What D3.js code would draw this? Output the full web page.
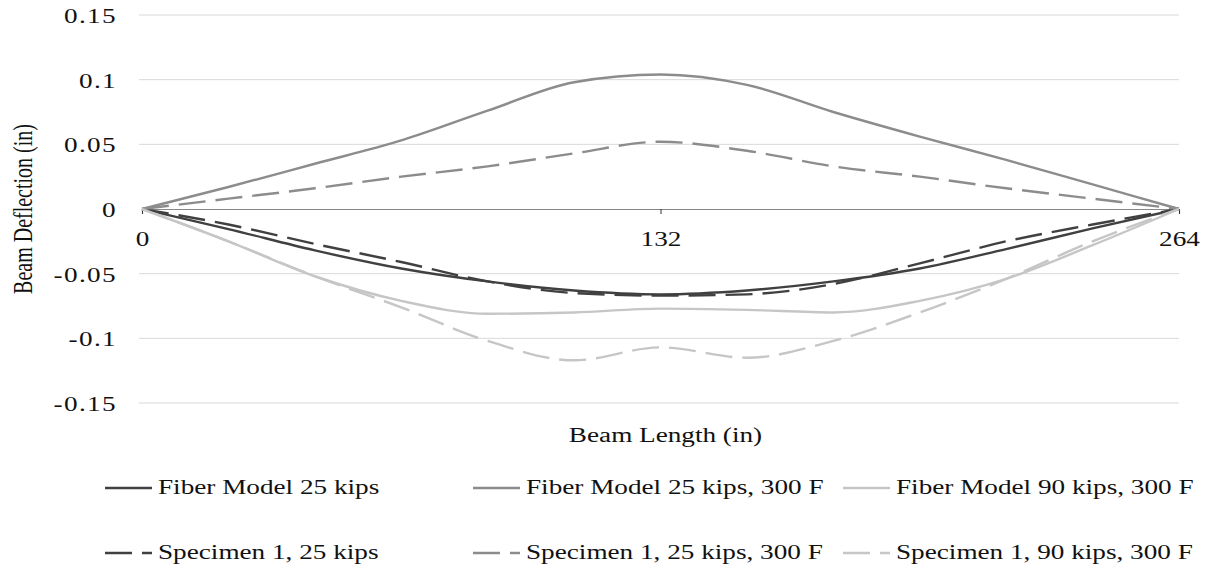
<!DOCTYPE html>
<html>
<head>
<meta charset="utf-8">
<script src="https://cdn.jsdelivr.net/npm/d3@7"></script>
<style>
  body { margin: 0; background: #fff; }
  text { font-family: "Liberation Serif", "DejaVu Serif", serif; }
</style>
</head>
<body>
<script>
// beam positions (in)
const positions = [0, 22, 44, 66, 88, 110, 132, 154, 176, 198, 220, 242, 264];

const fiber25 = [0, -0.0155, -0.032, -0.046, -0.056, -0.063, -0.066, -0.063, -0.056, -0.046, -0.031, -0.015, 0];
const fiber25hot = [0, 0.017, 0.035, 0.053, 0.076, 0.098, 0.104, 0.096, 0.075, 0.056, 0.038, 0.019, 0];
const fiber90hot = [0, -0.025, -0.052, -0.071, -0.081, -0.080, -0.077, -0.078, -0.080, -0.071, -0.054, -0.028, 0];
const spec25 = [0, -0.012, -0.027, -0.041, -0.056, -0.065, -0.067, -0.066, -0.058, -0.042, -0.025, -0.012, 0];
const spec25hot = [0, 0.008, 0.016, 0.025, 0.033, 0.043, 0.052, 0.045, 0.033, 0.025, 0.016, 0.008, 0];
const spec90hot = [0, -0.025, -0.052, -0.076, -0.102, -0.117, -0.107, -0.115, -0.102, -0.080, -0.054, -0.025, 0];

const yTicks = [0.15, 0.1, 0.05, 0, -0.05, -0.1, -0.15];
const xTicks = [0, 132, 264];

const seriesNames = [
  "Fiber Model 25 kips", "Fiber Model 25 kips, 300 F", "Fiber Model 90 kips, 300 F",
  "Specimen 1, 25 kips", "Specimen 1, 25 kips, 300 F", "Specimen 1, 90 kips, 300 F"
];
const seriesValues = [fiber25, fiber25hot, fiber90hot, spec25, spec25hot, spec90hot];
const seriesColors = ["#404040", "#8c8c8c", "#c6c6c6", "#404040", "#8c8c8c", "#c6c6c6"];
const seriesDashed = [false, false, false, true, true, true];

const W = 1207, H = 567;
const m = {top: 15, left: 142, right: 28, bottom: 164};
const w = W - m.left - m.right;
const h = H - m.top - m.bottom;
const fs = 20;     // font size
const sx = 1.36;   // the original is stretched horizontally
const dash = "27,10";

const svg = d3.select("body").append("svg")
    .attr("width", W)
    .attr("height", H);

const g = svg.append("g")
    .attr("transform", `translate(${m.left}, ${m.top})`);

const x = d3.scaleLinear().domain([0, 264]).range([0, w]);
const y = d3.scaleLinear().domain([-0.15, 0.15]).range([h, 0]);

// gridlines
g.selectAll("line.grid")
    .data(yTicks.filter(d => d !== 0))
    .enter().append("line")
    .attr("class", "grid")
    .attr("x1", -3).attr("x2", w)
    .attr("y1", d => y(d)).attr("y2", d => y(d))
    .attr("stroke", "#d9d9d9")
    .attr("stroke-width", 1);

// y tick labels
g.selectAll("text.ylab")
    .data(yTicks)
    .enter().append("text")
    .attr("class", "ylab")
    .attr("transform", d => `translate(-25, ${y(d) + 1}) scale(${sx}, 1)`)
    .attr("dy", "0.35em")
    .attr("text-anchor", "end")
    .attr("font-size", fs)
    .attr("letter-spacing", 1)
    .attr("fill", "#111")
    .text(d => d === 0 ? "0" : String(d));

// x axis on the zero line
const xAxis = g.append("g")
    .attr("transform", `translate(0, ${y(0)})`)
    .call(d3.axisBottom(x).tickValues(xTicks).tickSize(5).tickFormat(d3.format("d")));
xAxis.select(".domain").attr("stroke", "#868686").attr("stroke-width", 1.2);
xAxis.selectAll(".tick line").attr("stroke", "#333");
xAxis.selectAll(".tick text")
    .attr("y", 0)
    .attr("dy", 0)
    .attr("transform", `translate(0, 37) scale(${sx}, 1)`)
    .attr("font-family", "Liberation Serif")
    .attr("font-size", fs)
    .attr("fill", "#111");

// lines
const line = d3.line()
    .x((d, i) => x(positions[i]))
    .y(d => y(d))
    .curve(d3.curveMonotoneX);

seriesValues.forEach((vals, i) => {
  g.append("path")
      .datum(vals)
      .attr("fill", "none")
      .attr("stroke", seriesColors[i])
      .attr("stroke-width", 2.4)
      .attr("stroke-dasharray", seriesDashed[i] ? dash : null)
      .attr("d", line);
});

// axis titles
svg.append("text")
    .attr("transform", `translate(${m.left + w / 2 + 5}, 442) scale(${sx}, 1)`)
    .attr("text-anchor", "middle")
    .attr("font-size", fs)
    .attr("fill", "#111")
    .text("Beam Length (in)");

svg.append("text")
    .attr("transform", `translate(22, ${m.top + h / 2}) scale(${sx}, 1) rotate(-90)`)
    .attr("text-anchor", "middle")
    .attr("dy", "0.35em")
    .attr("font-size", fs)
    .attr("fill", "#111")
    .text("Beam Deflection (in)");

// legend
const legX = [105, 473, 843];
const legY = [488, 553];
const leg = svg.selectAll("g.leg")
    .data(seriesNames)
    .enter().append("g")
    .attr("class", "leg")
    .attr("transform", (d, i) => `translate(${legX[i % 3]}, ${legY[Math.floor(i / 3)]})`);

leg.append("line")
    .attr("x1", 0).attr("x2", 47)
    .attr("y1", 0).attr("y2", 0)
    .attr("stroke", (d, i) => seriesColors[i])
    .attr("stroke-width", 2.4)
    .attr("stroke-dasharray", (d, i) => seriesDashed[i] ? dash : null);

leg.append("text")
    .attr("transform", `translate(53, 0) scale(${sx}, 1)`)
    .attr("dy", "0.32em")
    .attr("font-size", fs)
    .attr("fill", "#111")
    .text(d => d);
</script>
</body>
</html>
